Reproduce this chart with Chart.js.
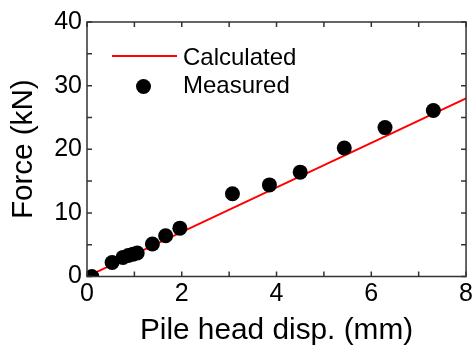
<!DOCTYPE html>
<html><head><meta charset="utf-8">
<script src="https://cdn.jsdelivr.net/npm/chart.js@4/dist/chart.umd.min.js"></script>
<style>html,body{margin:0;padding:0;background:#fff}#wrap{width:476px;height:347px}</style>
</head><body><div id="wrap"><canvas id="c" width="476" height="347"></canvas></div>
<script>
const measuredX = [0.1, 0.53, 0.76, 0.87, 0.97, 1.06, 1.38, 1.66, 1.96, 3.07, 3.85, 4.5, 5.43, 6.29, 7.31];
const measuredY = [0.0, 2.2, 3.0, 3.3, 3.5, 3.7, 5.1, 6.4, 7.6, 13.0, 14.4, 16.4, 20.2, 23.4, 26.1];
const calcX = [0, 8];
const calcY = [0, 28];
const xTickLabels = ['0', '2', '4', '6', '8'];
const yTickLabels = ['0', '10', '20', '30', '40'];
const seriesNames = ['Calculated', 'Measured'];

const FONT = 'Liberation Sans, Arial, sans-serif';
Chart.defaults.font.family = FONT;
Chart.defaults.color = '#000';

const frameAndTicks = {
  id: 'frameAndTicks',
  afterDatasetsDraw(chart) {
    const {ctx, chartArea: a, scales} = chart;
    ctx.save();
    ctx.strokeStyle = '#333';
    ctx.lineWidth = 1.5;
    ctx.strokeRect(a.left, a.top, a.right - a.left, a.bottom - a.top);
    const L = 5;
    ctx.beginPath();
    scales.x.ticks.forEach(t => {
      const px = scales.x.getPixelForValue(t.value);
      ctx.moveTo(px, a.bottom); ctx.lineTo(px, a.bottom - L);
      ctx.moveTo(px, a.top); ctx.lineTo(px, a.top + L);
    });
    scales.y.ticks.forEach(t => {
      const py = scales.y.getPixelForValue(t.value);
      ctx.moveTo(a.left, py); ctx.lineTo(a.left + L, py);
      ctx.moveTo(a.right, py); ctx.lineTo(a.right - L, py);
    });
    ctx.stroke();
    ctx.restore();
  },
  afterDraw(chart) {
    const {ctx} = chart;
    const ds = chart.data.datasets;
    ctx.save();
    ctx.font = '24px ' + FONT;
    ctx.fillStyle = '#000';
    ctx.textBaseline = 'middle';
    ctx.textAlign = 'left';
    ctx.strokeStyle = ds[0].borderColor;
    ctx.lineWidth = ds[0].borderWidth;
    ctx.beginPath(); ctx.moveTo(112, 56); ctx.lineTo(177, 56); ctx.stroke();
    ctx.fillText(ds[0].label, 183, 58);
    ctx.fillStyle = ds[1].backgroundColor;
    ctx.beginPath(); ctx.arc(143.5, 86.5, 7.5, 0, Math.PI * 2); ctx.fill();
    ctx.fillStyle = '#000';
    ctx.fillText(ds[1].label, 183, 86.5);
    ctx.restore();
  }
};

new Chart(document.getElementById('c'), {
  type: 'scatter',
  data: {
    datasets: [
      {
        label: seriesNames[0],
        type: 'line',
        data: calcX.map((x, i) => ({x, y: calcY[i]})),
        borderColor: '#ff0000',
        borderWidth: 2,
        pointRadius: 0,
        fill: false,
        clip: 0,
        order: 2
      },
      {
        label: seriesNames[1],
        data: measuredX.map((x, i) => ({x, y: measuredY[i]})),
        backgroundColor: '#000',
        borderColor: '#000',
        borderWidth: 0,
        pointRadius: 7.5,
        clip: 0,
        order: 1
      }
    ]
  },
  options: {
    responsive: false,
    animation: false,
    devicePixelRatio: 1,
    layout: {padding: {top: 22, right: 9, left: 0, bottom: 0}},
    plugins: {legend: {display: false}, tooltip: {enabled: false}},
    scales: {
      x: {
        type: 'linear', min: 0, max: 8,
        grid: {display: false, drawTicks: false},
        border: {display: false},
        ticks: {
          stepSize: 1, autoSkip: false, maxRotation: 0, padding: 3,
          font: {size: 25}, color: '#000',
          callback: v => xTickLabels.includes(String(v)) ? String(v) : ''
        },
        title: {display: true, text: 'Pile head disp. (mm)', font: {size: 29.8}, color: '#000', padding: {top: 0, bottom: -2}},
        afterFit: s => { s.height = 70.5; }
      },
      y: {
        type: 'linear', min: 0, max: 40,
        grid: {display: false, drawTicks: false},
        border: {display: false},
        ticks: {
          stepSize: 5, autoSkip: false, padding: 5,
          font: {size: 25}, color: '#000',
          callback: v => yTickLabels.includes(String(v)) ? String(v) : ''
        },
        title: {display: true, text: 'Force (kN)', font: {size: 29.6}, color: '#000', padding: {top: 6.3, bottom: 0}},
        afterFit: s => { s.width = 87; }
      }
    }
  },
  plugins: [frameAndTicks]
});
</script></body></html>
